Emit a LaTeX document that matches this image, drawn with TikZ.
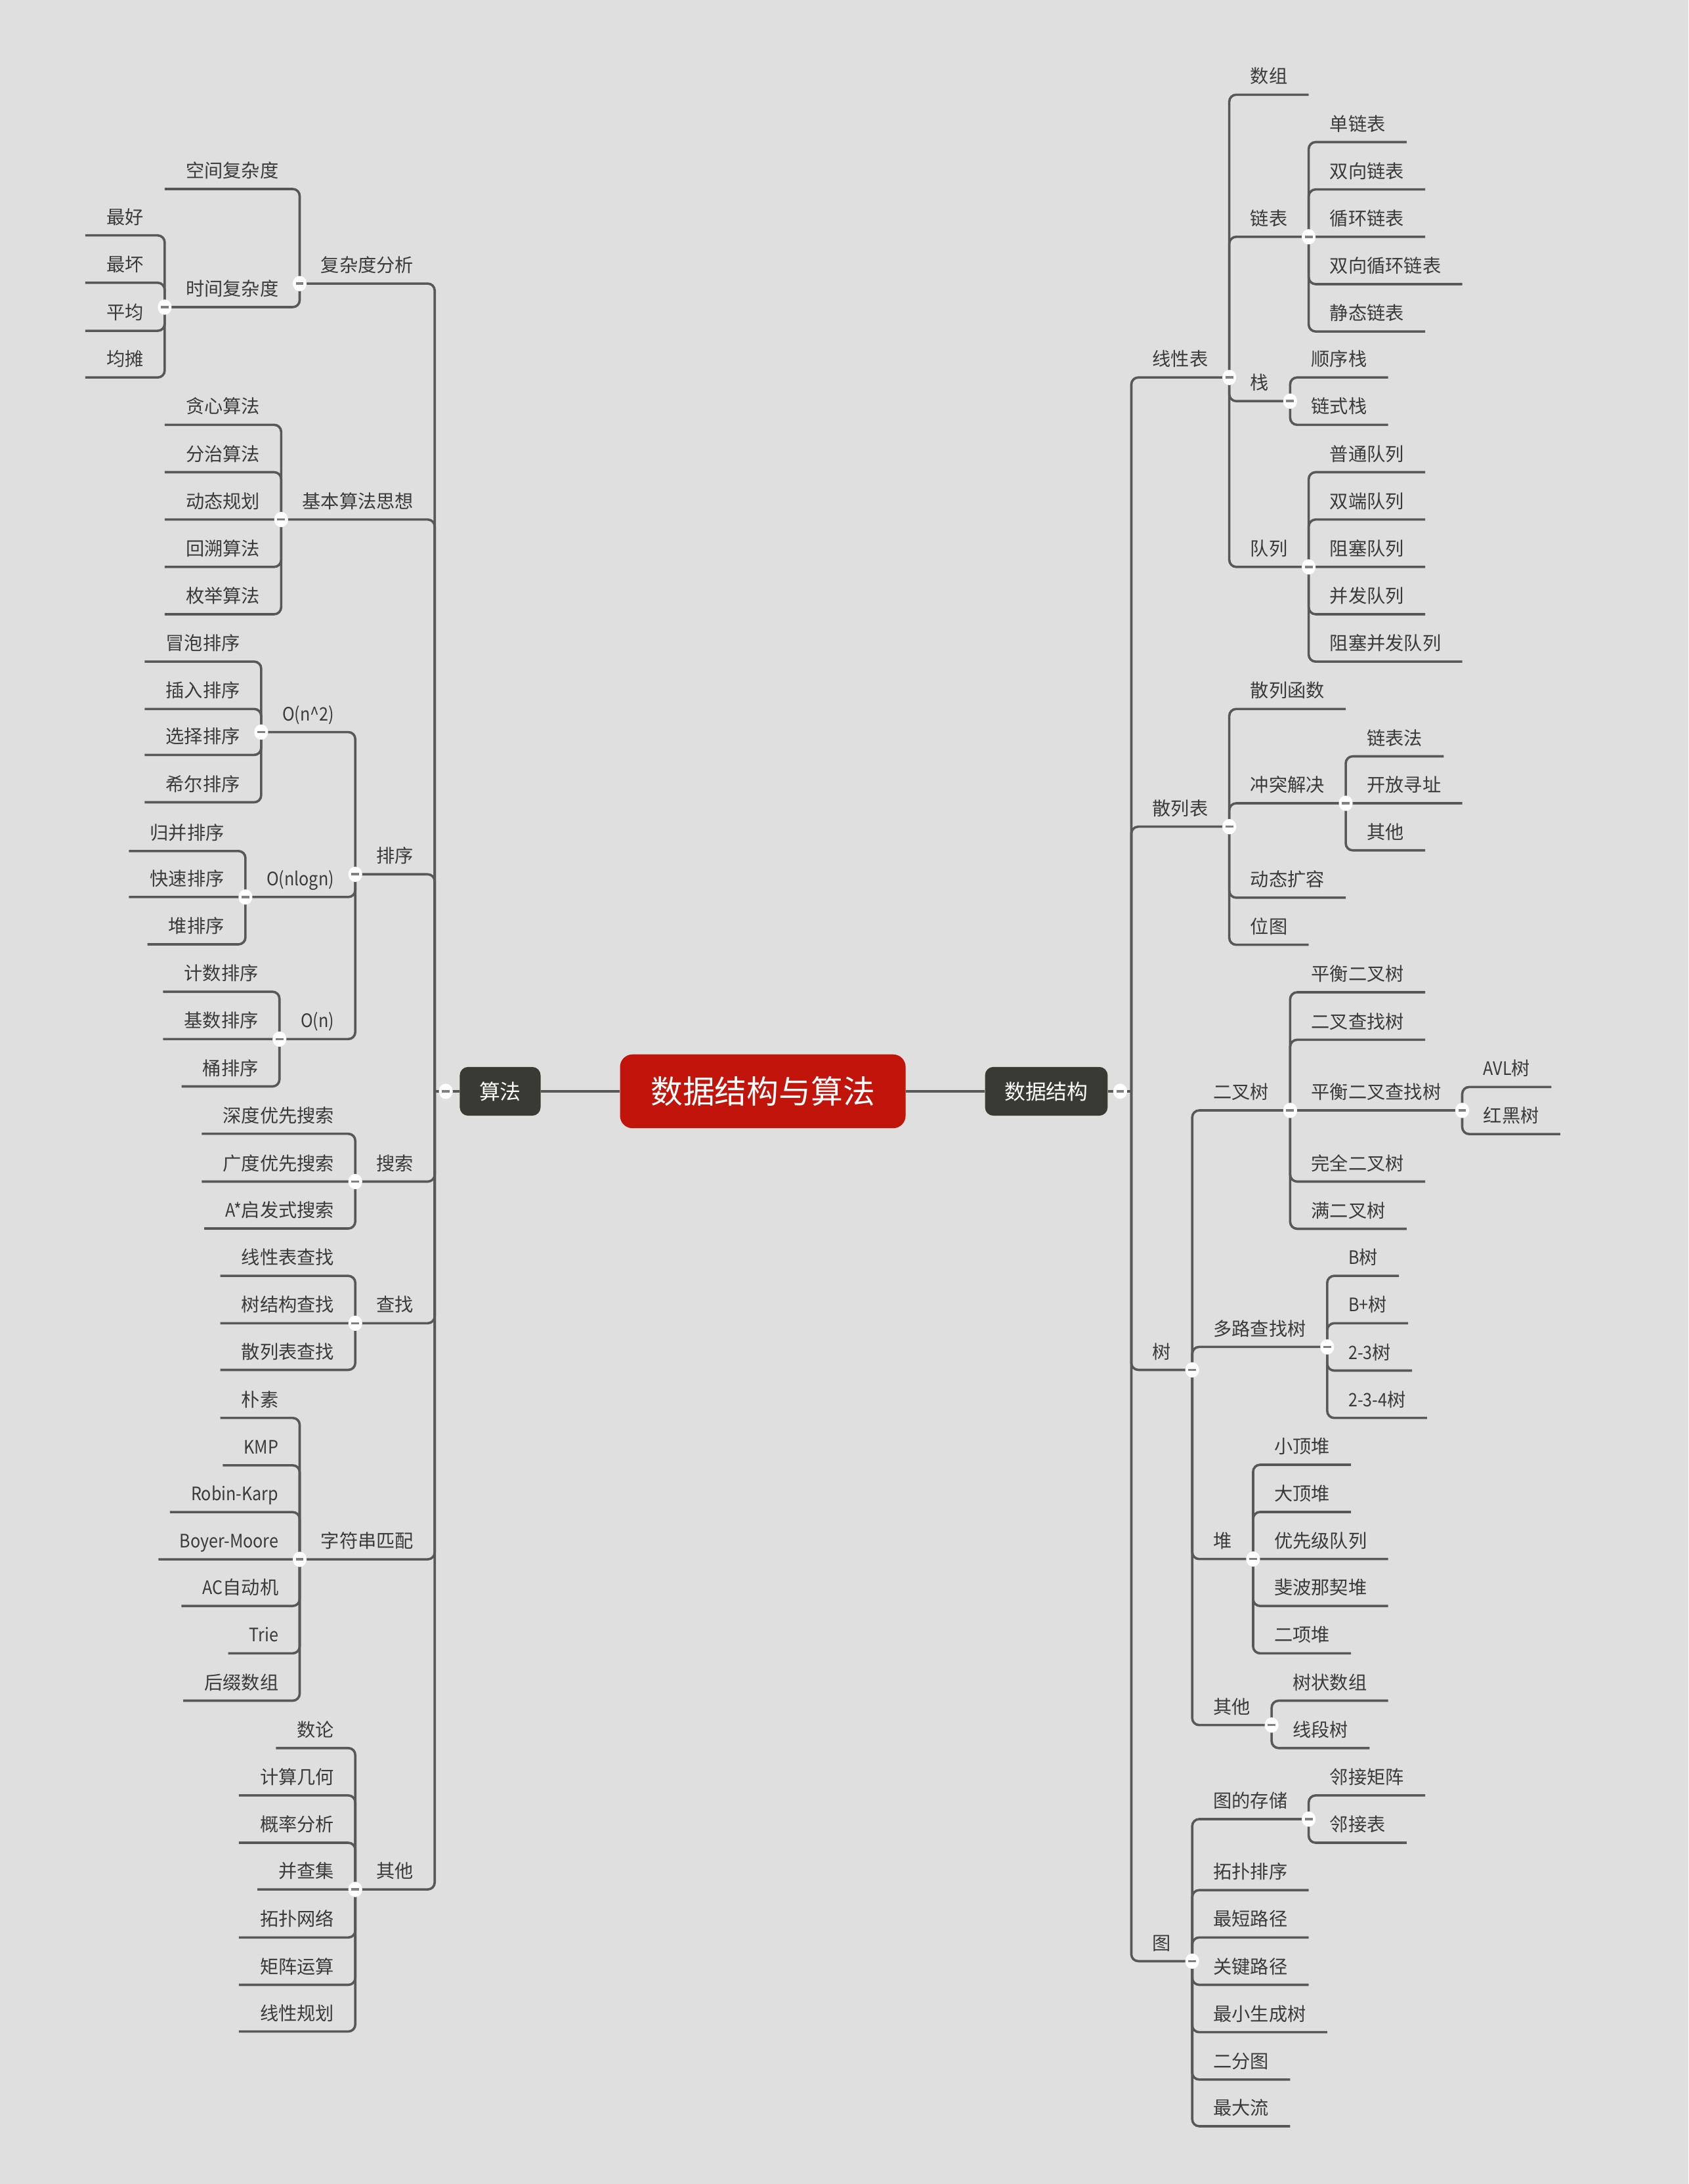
\documentclass[tikz,border=0pt]{standalone}
\usepackage{fontspec}
\setmainfont{Noto Sans CJK SC}
\usetikzlibrary{calc}
\definecolor{bgc}{HTML}{DFDFDF}
\definecolor{linec}{HTML}{585858}
\definecolor{txtc}{HTML}{3A3A3A}
\definecolor{rootc}{HTML}{C1140A}
\definecolor{boxc}{HTML}{3A3A35}
\definecolor{minusc}{HTML}{808080}
\newcommand\latn[1]{{\addfontfeature{FakeStretch=0.89}#1}}
\tikzset{
  lbl/.style={font=\fontsize{13.3}{16}\selectfont, text=txtc, inner xsep=15pt, inner ysep=0pt, text height=11pt, text depth=8pt},
  br/.style={draw=linec, line width=1.7pt, rounded corners=5pt},
  mainline/.style={draw=linec, line width=2.3pt},
  tbox/.style={fill=rootc, text=white, rounded corners=9pt, minimum width=205pt, minimum height=53pt, font=\fontsize{23}{26}\selectfont, inner sep=0pt},
  mbox/.style={fill=boxc, text=white, rounded corners=6pt, minimum height=35pt, font=\fontsize{15}{18}\selectfont, inner sep=0pt},
  collapse/.pic={\fill[white] (0,0) ellipse (5pt and 5.5pt); \draw[color=minusc, line width=1.7pt] (-2.8pt,0) -- (2.8pt,0);}
}
\newcommand\MapR[4]{\node[lbl,anchor=south west] (#1) at (#2 |- 0,#3) {#4}; \draw[br] (#2) |- (#1.south east);}
\newcommand\MapL[4]{\node[lbl,anchor=south east] (#1) at (#2 |- 0,#3) {#4}; \draw[br] (#2) |- (#1.south west);}
\begin{document}
\begin{tikzpicture}[x=1pt,y=-1pt]
\fill[bgc] (0,0) rectangle (1212,1568);
\useasboundingbox (0,0) rectangle (1212,1568);

% central nodes
\node[tbox] (root) at (547.5,783.5) {数据结构与算法};
\node[mbox, minimum width=58pt] (alg) at (359,783.5) {算法};
\node[mbox, minimum width=88pt] (ds) at (751,783.5) {数据结构};
\coordinate (dsj) at (812,783.5);
\coordinate (algj) at (312,783.5);
\coordinate (dsc) at (804,783.5);
\coordinate (algc) at (320,783.5);
\draw[mainline] (alg) -- (root);
\draw[mainline] (root) -- (ds);
\draw[br] (ds.east) -- (dsj);
\draw[br] (alg.west) -- (algj);

% ===== right: data structures =====
\MapR{lxb}{dsj}{271}{线性表}
\MapR{szu}{lxb.south east}{68}{数组}
\MapR{lb}{lxb.south east}{170}{链表}
\MapR{dlb}{lb.south east}{102}{单链表}
\MapR{sxlb}{lb.south east}{136}{双向链表}
\MapR{xhlb}{lb.south east}{170}{循环链表}
\MapR{sxxh}{lb.south east}{204}{双向循环链表}
\MapR{jtlb}{lb.south east}{238}{静态链表}
\MapR{zhan}{lxb.south east}{288}{栈}
\MapR{sxz}{zhan.south east}{271}{顺序栈}
\MapR{lsz}{zhan.south east}{305}{链式栈}
\MapR{dl}{lxb.south east}{407}{队列}
\MapR{ptdl}{dl.south east}{339}{普通队列}
\MapR{sddl}{dl.south east}{373}{双端队列}
\MapR{zsdl}{dl.south east}{407}{阻塞队列}
\MapR{bfdl}{dl.south east}{441}{并发队列}
\MapR{zsbf}{dl.south east}{475}{阻塞并发队列}

\MapR{slb}{dsj}{593.5}{散列表}
\MapR{slhs}{slb.south east}{509}{散列函数}
\MapR{ctjj}{slb.south east}{576.7}{冲突解决}
\MapR{lbf}{ctjj.south east}{543}{链表法}
\MapR{kfxz}{ctjj.south east}{576.7}{开放寻址}
\MapR{qtA}{ctjj.south east}{610.5}{其他}
\MapR{dtkr}{slb.south east}{644.5}{动态扩容}
\MapR{wt}{slb.south east}{678.3}{位图}

\MapR{shu}{dsj}{983.5}{树}
\MapR{ecs}{shu.south east}{797.2}{二叉树}
\MapR{phecs}{ecs.south east}{712.4}{平衡二叉树}
\MapR{eczs}{ecs.south east}{746.5}{二叉查找树}
\MapR{phcz}{ecs.south east}{797.2}{平衡二叉查找树}
\MapR{avl}{phcz.south east}{780.4}{\latn{AVL}树}
\MapR{hhs}{phcz.south east}{814.2}{红黑树}
\MapR{wqecs}{ecs.south east}{848.3}{完全二叉树}
\MapR{mecs}{ecs.south east}{882.2}{满二叉树}
\MapR{dlcz}{shu.south east}{967}{多路查找树}
\MapR{bs}{dlcz.south east}{916}{\latn{B}树}
\MapR{bps}{dlcz.south east}{950}{\latn{B+}树}
\MapR{sa}{dlcz.south east}{984}{\latn{2-3}树}
\MapR{sb}{dlcz.south east}{1018}{\latn{2-3-4}树}
\MapR{dui}{shu.south east}{1119.3}{堆}
\MapR{xdd}{dui.south east}{1051.6}{小顶堆}
\MapR{ddd}{dui.south east}{1085.5}{大顶堆}
\MapR{yxj}{dui.south east}{1119.3}{优先级队列}
\MapR{fb}{dui.south east}{1153}{斐波那契堆}
\MapR{exd}{dui.south east}{1187}{二项堆}
\MapR{qtB}{shu.south east}{1238.5}{其他}
\MapR{szsz}{qtB.south east}{1221}{树状数组}
\MapR{xds}{qtB.south east}{1255}{线段树}

\MapR{tu}{dsj}{1408}{图}
\MapR{tdcc}{tu.south east}{1306}{图的存储}
\MapR{ljjz}{tdcc.south east}{1289}{邻接矩阵}
\MapR{ljb}{tdcc.south east}{1323}{邻接表}
\MapR{tppx}{tu.south east}{1357}{拓扑排序}
\MapR{zdlj}{tu.south east}{1391}{最短路径}
\MapR{gjlj}{tu.south east}{1425}{关键路径}
\MapR{zxsc}{tu.south east}{1459}{最小生成树}
\MapR{eft}{tu.south east}{1493}{二分图}
\MapR{zdl}{tu.south east}{1526.5}{最大流}

% ===== left: algorithms =====
\MapL{fzd}{algj}{203.6}{复杂度分析}
\MapL{kjfz}{fzd.south west}{135.7}{空间复杂度}
\MapL{sjfz}{fzd.south west}{220.5}{时间复杂度}
\MapL{zhh}{sjfz.south west}{169}{最好}
\MapL{zhu}{sjfz.south west}{203}{最坏}
\MapL{pj}{sjfz.south west}{237.5}{平均}
\MapL{jt}{sjfz.south west}{271}{均摊}

\MapL{jbsf}{algj}{373}{基本算法思想}
\MapL{txsf}{jbsf.south west}{305}{贪心算法}
\MapL{fzsf}{jbsf.south west}{339}{分治算法}
\MapL{dtgh}{jbsf.south west}{373}{动态规划}
\MapL{hssf}{jbsf.south west}{407}{回溯算法}
\MapL{mjsf}{jbsf.south west}{441}{枚举算法}

\MapL{px}{algj}{627.7}{排序}
\MapL{onA}{px.south west}{525.6}{\latn{O(n\textasciicircum 2)}}
\MapL{mppx}{onA.south west}{475}{冒泡排序}
\MapL{crpx}{onA.south west}{509}{插入排序}
\MapL{xzpx}{onA.south west}{542}{选择排序}
\MapL{xepx}{onA.south west}{576}{希尔排序}
\MapL{onB}{px.south west}{644}{\latn{O(nlogn)}}
\MapL{gbpx}{onB.south west}{611}{归并排序}
\MapL{kspx}{onB.south west}{644}{快速排序}
\MapL{dpx}{onB.south west}{678}{堆排序}
\MapL{onC}{px.south west}{746}{\latn{O(n)}}
\MapL{jspx}{onC.south west}{712}{计数排序}
\MapL{jishu}{onC.south west}{746}{基数排序}
\MapL{tpx}{onC.south west}{780}{桶排序}

\MapL{ss}{algj}{848.3}{搜索}
\MapL{sdyx}{ss.south west}{814}{深度优先搜索}
\MapL{gdyx}{ss.south west}{848.3}{广度优先搜索}
\MapL{astar}{ss.south west}{882}{\latn{A*}启发式搜索}

\MapL{cz}{algj}{950}{查找}
\MapL{xbcz}{cz.south west}{916}{线性表查找}
\MapL{sjgcz}{cz.south west}{950}{树结构查找}
\MapL{slbcz}{cz.south west}{983.5}{散列表查找}

\MapL{zfc}{algj}{1119.5}{字符串匹配}
\MapL{ps}{zfc.south west}{1018}{朴素}
\MapL{kmp}{zfc.south west}{1052}{\latn{KMP}}
\MapL{rk}{zfc.south west}{1085.6}{\latn{Robin-Karp}}
\MapL{bm}{zfc.south west}{1119.5}{\latn{Boyer-Moore}}
\MapL{acm}{zfc.south west}{1153}{\latn{AC}自动机}
\MapL{trie}{zfc.south west}{1187}{\latn{Trie}}
\MapL{hzsz}{zfc.south west}{1221}{后缀数组}

\MapL{qtC}{algj}{1356.5}{其他}
\MapL{sl}{qtC.south west}{1255}{数论}
\MapL{jsjh}{qtC.south west}{1289}{计算几何}
\MapL{glfx}{qtC.south west}{1323}{概率分析}
\MapL{bcj}{qtC.south west}{1356.5}{并查集}
\MapL{tpwl}{qtC.south west}{1391}{拓扑网络}
\MapL{jzys}{qtC.south west}{1425}{矩阵运算}
\MapL{xxgh}{qtC.south west}{1458.5}{线性规划}

% ===== collapse markers =====
\pic at (dsc) {collapse};
\pic at (algc) {collapse};
\foreach \n in {lxb,lb,zhan,dl,slb,ctjj,shu,ecs,phcz,dlcz,dui,qtB,tu,tdcc}
  \pic at (\n.south east) {collapse};
\foreach \n in {fzd,sjfz,jbsf,px,onA,onB,onC,ss,cz,zfc,qtC}
  \pic at (\n.south west) {collapse};
\end{tikzpicture}
\end{document}
